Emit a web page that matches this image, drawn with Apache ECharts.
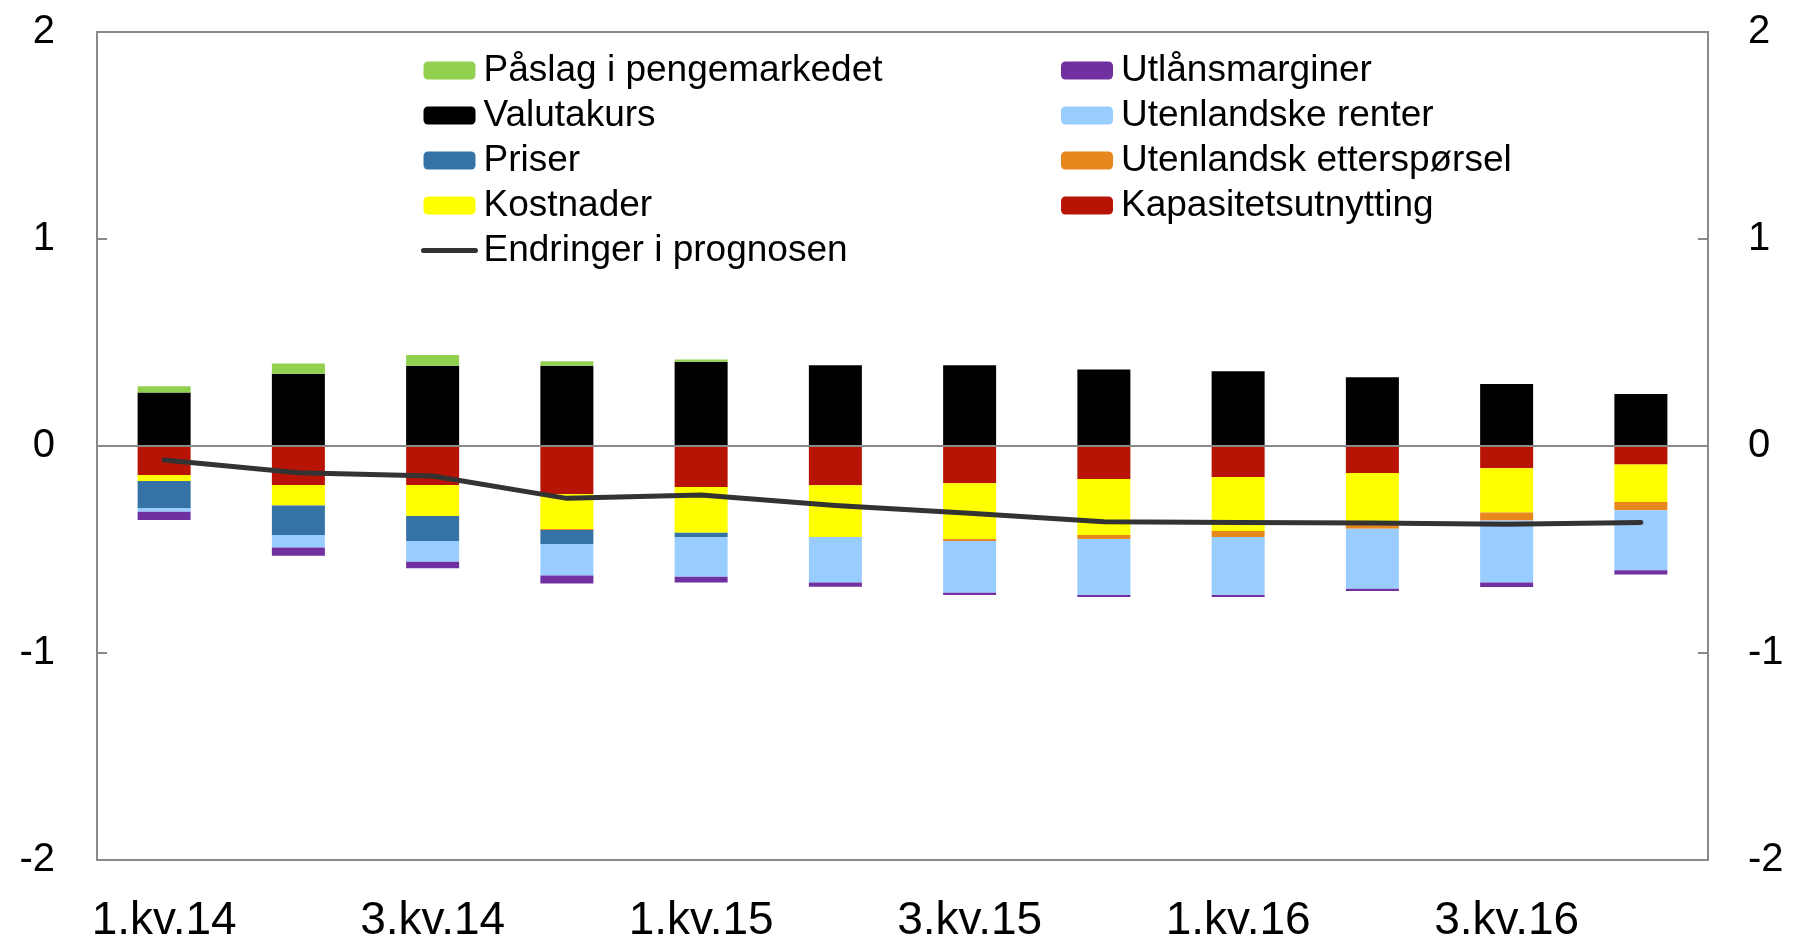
<!DOCTYPE html>
<html>
<head>
<meta charset="utf-8">
<script src="https://cdn.jsdelivr.net/npm/echarts@6/dist/echarts.min.js"></script>
<style>
  html, body { margin: 0; padding: 0; background: #fff; }
  #main { width: 1795px; height: 937px; }
</style>
</head>
<body>
<div id="main"></div>
<script>
// kvartaler
var categories = ['1.kv.14', '2.kv.14', '3.kv.14', '4.kv.14', '1.kv.15', '2.kv.15',
                  '3.kv.15', '4.kv.15', '1.kv.16', '2.kv.16', '3.kv.16', '4.kv.16'];

// bidrag (prosentenheter), lest av figuren
var paaslag     = [0.030, 0.050, 0.052, 0.022, 0.011, 0, 0, 0, 0, 0, 0, 0];
var valutakurs  = [0.259, 0.349, 0.388, 0.388, 0.407, 0.390, 0.390, 0.370, 0.361, 0.332, 0.300, 0.251];
var kapasitet   = [-0.140, -0.188, -0.188, -0.232, -0.198, -0.190, -0.180, -0.159, -0.150, -0.130, -0.108, -0.089];
var kostnader   = [-0.029, -0.100, -0.150, -0.169, -0.221, -0.250, -0.269, -0.271, -0.261, -0.251, -0.213, -0.182];
var etterspors  = [0, 0, 0, -0.005, 0, 0, -0.010, -0.019, -0.029, -0.019, -0.039, -0.039];
var priser      = [-0.130, -0.142, -0.121, -0.068, -0.021, 0, 0, 0, 0, 0, 0, 0];
var renter      = [-0.019, -0.060, -0.100, -0.151, -0.192, -0.219, -0.250, -0.271, -0.280, -0.290, -0.300, -0.290];
var utlaan      = [-0.040, -0.040, -0.032, -0.039, -0.027, -0.021, -0.011, -0.010, -0.010, -0.010, -0.021, -0.021];
var endringer   = [-0.068, -0.129, -0.145, -0.253, -0.237, -0.288, -0.325, -0.366, -0.369, -0.372, -0.378, -0.369];

var yTicks = [-2, -1, 0, 1, 2];

var FONT = '"Liberation Sans", Arial, sans-serif';
var AXIS = '#898989';
var LINE = '#333333';

var myChart = echarts.init(document.getElementById('main'));

function bar(name, data, color) {
    return {
        name: name, type: 'bar', stack: 'sum', data: data,
        barWidth: 53, itemStyle: {color: color}, emphasis: {disabled: true}
    };
}

var legendText = {fontFamily: FONT, fontSize: 37, color: '#000', lineHeight: 35, padding: [0, 0, 0, 3]};

var option = {
    animation: false,
    backgroundColor: '#fff',
    grid: {
        left: 97, right: 87, top: 32, bottom: 77, outerBoundsMode: 'none',
        show: true, borderColor: AXIS, borderWidth: 2
    },
    legend: [{
        left: 416, top: 47, orient: 'vertical', itemWidth: 52, itemHeight: 18, itemGap: 8,
        textStyle: legendText, selectedMode: false,
        data: ['Påslag i pengemarkedet', 'Valutakurs', 'Priser', 'Kostnader', {
            name: 'Endringer i prognosen',
            itemStyle: {opacity: 0},
            lineStyle: {color: LINE, width: 5, cap: 'round'}
        }]
    }, {
        left: 1056, top: 47, orient: 'vertical', itemWidth: 52, itemHeight: 18, itemGap: 8,
        textStyle: legendText, selectedMode: false,
        data: ['Utlånsmarginer', 'Utenlandske renter', 'Utenlandsk etterspørsel', 'Kapasitetsutnytting']
    }],
    xAxis: {
        type: 'category', data: categories, boundaryGap: true,
        axisLine: {onZero: false, lineStyle: {color: AXIS, width: 2}},
        axisTick: {inside: true, length: 12, interval: 1, lineStyle: {color: AXIS, width: 2}},
        axisLabel: {interval: 1, margin: 38, fontFamily: FONT, fontSize: 46, color: '#000'}
    },
    yAxis: [{
        type: 'value', min: yTicks[0], max: yTicks[yTicks.length - 1], interval: 1,
        axisLine: {show: true, lineStyle: {color: AXIS, width: 2}},
        axisTick: {show: true, inside: true, length: 10, lineStyle: {color: AXIS, width: 2}},
        splitLine: {show: false},
        axisLabel: {margin: 42, fontFamily: FONT, fontSize: 40, color: '#000'}
    }, {
        type: 'value', position: 'right', min: yTicks[0], max: yTicks[yTicks.length - 1], interval: 1,
        axisLine: {show: true, lineStyle: {color: AXIS, width: 2}},
        axisTick: {show: true, inside: true, length: 10, lineStyle: {color: AXIS, width: 2}},
        splitLine: {show: false},
        axisLabel: {margin: 40, fontFamily: FONT, fontSize: 40, color: '#000'}
    }],
    series: [
        bar('Kapasitetsutnytting', kapasitet, '#b81405'),
        bar('Kostnader', kostnader, '#ffff00'),
        bar('Utenlandsk etterspørsel', etterspors, '#e8871e'),
        bar('Priser', priser, '#3572a5'),
        bar('Utenlandske renter', renter, '#99ccff'),
        bar('Utlånsmarginer', utlaan, '#7030a0'),
        bar('Valutakurs', valutakurs, '#000000'),
        bar('Påslag i pengemarkedet', paaslag, '#92d050'),
        {
            name: 'Endringer i prognosen', type: 'line', data: endringer,
            symbol: 'none', z: 5,
            lineStyle: {color: LINE, width: 5, cap: 'round', join: 'round'},
            itemStyle: {color: LINE},
            markLine: {
                silent: true, symbol: 'none', label: {show: false},
                lineStyle: {color: AXIS, width: 2, type: 'solid'},
                data: [{yAxis: 0}]
            }
        }
    ]
};

myChart.setOption(option);
</script>
</body>
</html>
